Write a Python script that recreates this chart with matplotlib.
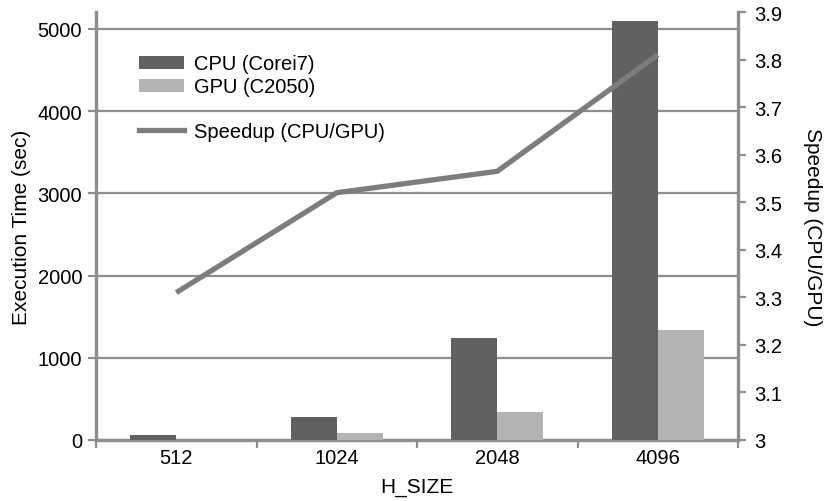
import matplotlib
matplotlib.use("Agg")
import matplotlib.pyplot as plt
import numpy as np
from matplotlib.patches import Patch
from matplotlib.lines import Line2D

plt.rcParams['font.family'] = ['Liberation Sans', 'DejaVu Sans']

categories = ['512', '1024', '2048', '4096']
cpu_time = [65, 280, 1240, 5100]
gpu_time = [3, 80, 340, 1340]
speedup = [3.31, 3.52, 3.565, 3.81]

cpu_color = '#616161'
gpu_color = '#b3b3b3'
line_color = '#7d7d7d'
axis_color = '#8e8e8e'

fig = plt.figure(figsize=(8.3, 5.02), dpi=100)
ax = fig.add_axes([96/830, 1-441/502, (738-96)/830, (441-13)/502])
x = np.arange(len(categories))
w = 0.287
ax.bar(x - w/2, cpu_time, w, color=cpu_color, zorder=3)
ax.bar(x + w/2, gpu_time, w, color=gpu_color, zorder=3)
ax.set_xlim(-0.5, len(categories) - 0.5)
ax.set_ylim(0, 5000 * 428 / 411)
ax.set_yticks([0, 1000, 2000, 3000, 4000, 5000])
ax.grid(axis='y', color=axis_color, linewidth=1.6, zorder=0)
ax.set_axisbelow(True)
ax.set_xticks(x)
ax.set_xticklabels(categories, fontsize=14.5)
ax.set_xticks(np.arange(len(categories) + 1) - 0.5, minor=True)
ax.tick_params(axis='x', which='major', length=0, pad=6)
ax.tick_params(axis='x', which='minor', length=6, width=1.6, color=axis_color)
ax.tick_params(axis='y', length=6, width=1.6, color=axis_color, labelsize=14.5, pad=4)
for s in ['left', 'bottom']:
    ax.spines[s].set_color(axis_color)
    ax.spines[s].set_linewidth(2.4)
ax.spines['top'].set_visible(False)
ax.spines['right'].set_visible(False)
ax.set_ylabel('Execution Time (sec)', fontsize=15, labelpad=5)
ax.set_xlabel('H_SIZE', fontsize=15, labelpad=7)

ax2 = ax.twinx()
ax2.plot(x, speedup, color=line_color, linewidth=3.8, solid_capstyle='butt', zorder=5)
ax2.set_ylim(3.0, 3.9)
ax2.set_yticks([3.0, 3.1, 3.2, 3.3, 3.4, 3.5, 3.6, 3.7, 3.8, 3.9])
ax2.set_yticklabels(['3', '3.1', '3.2', '3.3', '3.4', '3.5', '3.6', '3.7', '3.8', '3.9'])
ax2.tick_params(axis='y', length=6, width=1.6, color=axis_color, labelsize=14.5, pad=6)
for s in ['left', 'bottom', 'top']:
    ax2.spines[s].set_visible(False)
ax2.spines['right'].set_color(axis_color)
ax2.spines['right'].set_linewidth(2.4)
ax2.set_ylabel('Speedup (CPU/GPU)', fontsize=15, rotation=270, labelpad=28)

h1 = [Patch(facecolor=cpu_color, label='CPU (Corei7)'),
      Patch(facecolor=gpu_color, label='GPU (C2050)')]
leg1 = ax2.legend(handles=h1, loc='upper left', bbox_to_anchor=(0.055, 0.92),
                  frameon=False, fontsize=14.5, handlelength=2.2, handleheight=0.6,
                  handletextpad=0.5, labelspacing=0.2, borderaxespad=0)
ax2.add_artist(leg1)
h2 = [Line2D([0], [0], color=line_color, linewidth=3.8, label='Speedup (CPU/GPU)')]
ax2.legend(handles=h2, loc='upper left', bbox_to_anchor=(0.055, 0.762),
           frameon=False, fontsize=14.5, handlelength=2.2, handletextpad=0.5,
           borderaxespad=0)

fig.savefig('out.png', dpi=100)
